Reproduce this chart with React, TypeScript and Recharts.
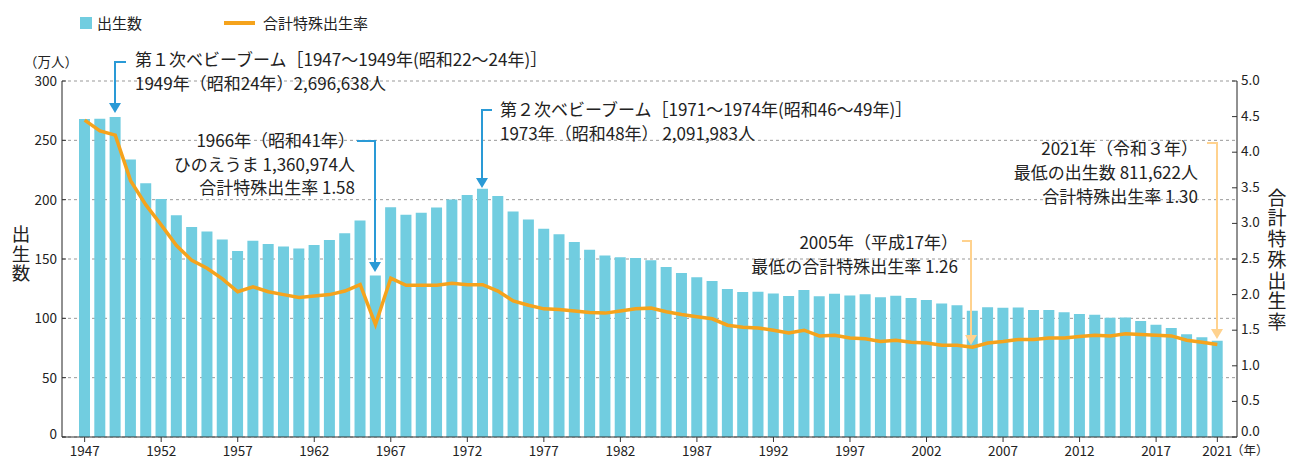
import { ComposedChart, Bar, Line, XAxis, YAxis, CartesianGrid } from "recharts";

const years = [
    1947, 1948, 1949, 1950, 1951, 1952, 1953, 1954, 1955, 1956,
    1957, 1958, 1959, 1960, 1961, 1962, 1963, 1964, 1965, 1966,
    1967, 1968, 1969, 1970, 1971, 1972, 1973, 1974, 1975, 1976,
    1977, 1978, 1979, 1980, 1981, 1982, 1983, 1984, 1985, 1986,
    1987, 1988, 1989, 1990, 1991, 1992, 1993, 1994, 1995, 1996,
    1997, 1998, 1999, 2000, 2001, 2002, 2003, 2004, 2005, 2006,
    2007, 2008, 2009, 2010, 2011, 2012, 2013, 2014, 2015, 2016,
    2017, 2018, 2019, 2020, 2021,
];

// 出生数（万人）
const births = [
    267.9, 268.2, 269.7, 233.8, 213.8, 200.5, 186.8, 177.0, 173.1, 166.5,
    156.7, 165.3, 162.6, 160.6, 158.9, 161.9, 166.0, 171.7, 182.4, 136.1,
    193.6, 187.2, 189.0, 193.4, 200.1, 203.9, 209.2, 203.0, 190.1, 183.3,
    175.5, 170.9, 164.3, 157.7, 152.9, 151.5, 150.9, 149.0, 143.2, 138.3,
    134.7, 131.4, 124.7, 122.2, 122.3, 120.9, 118.8, 123.8, 118.7, 120.7,
    119.2, 120.3, 117.8, 119.1, 117.1, 115.4, 112.4, 111.1, 106.3, 109.3,
    109.0, 109.1, 107.0, 107.1, 105.1, 103.7, 103.0, 100.4, 100.6, 97.7,
    94.6, 91.8, 86.5, 84.1, 81.2,
];

// 合計特殊出生率
const tfr = [
    4.45, 4.3, 4.24, 3.6, 3.26, 2.98, 2.69, 2.48, 2.37, 2.22,
    2.04, 2.11, 2.04, 2.0, 1.96, 1.98, 2.0, 2.05, 2.14, 1.58,
    2.23, 2.13, 2.13, 2.13, 2.16, 2.14, 2.14, 2.05, 1.91, 1.85,
    1.8, 1.79, 1.77, 1.75, 1.74, 1.77, 1.8, 1.81, 1.76, 1.72,
    1.69, 1.66, 1.57, 1.54, 1.53, 1.5, 1.46, 1.5, 1.42, 1.43,
    1.39, 1.38, 1.34, 1.36, 1.33, 1.32, 1.29, 1.29, 1.26, 1.32,
    1.34, 1.37, 1.37, 1.39, 1.39, 1.41, 1.43, 1.42, 1.45, 1.44,
    1.43, 1.42, 1.36, 1.33, 1.3,
];

const yearLabels = [1947, 1952, 1957, 1962, 1967, 1972, 1977, 1982, 1987, 1992, 1997, 2002, 2007, 2012, 2017, 2021];
const birthTicks = [0, 50, 100, 150, 200, 250, 300];
const tfrTicks = [0, 0.5, 1, 1.5, 2, 2.5, 3, 3.5, 4, 4.5, 5];

const FONT = "'Noto Sans CJK JP', 'Noto Sans', sans-serif";
const TEXT = "#222";
const BAR = "#71cde0";
const LINE = "#f5a31c";
const BLUE = "#2a9ad6";
const PALE = "#ffd28e";
const NOTE = 17;

const data = years.map((year, i) => ({ year, births: births[i], tfr: tfr[i] }));

function YearTick(props: any) {
    const { x, y, payload } = props;
    if (!yearLabels.includes(payload.value)) return null;
    return (
        <g>
            <line x1={x} x2={x} y1={y} y2={y + 5} stroke="#333" />
            <text x={x} y={y + 19} textAnchor="middle" fontSize={13.5} fill={TEXT} fontFamily={FONT}>
                {payload.value}
            </text>
        </g>
    );
}

function LeftTick(props: any) {
    const { x, y, payload } = props;
    return (
        <g>
            <line x1={x} x2={x + 4} y1={y} y2={y} stroke="#333" />
            <text x={x - 5} y={payload.value === 0 ? y + 2 : y + 5} textAnchor="end" fontSize={13.5} fill={TEXT} fontFamily={FONT}>
                {payload.value}
            </text>
        </g>
    );
}

function RightTick(props: any) {
    const { x, y, payload } = props;
    return (
        <g>
            <line x1={x} x2={x - 5} y1={y} y2={y} stroke="#333" />
            <text x={x + 4} y={payload.value === 0 ? y - 1 : y + 4} textAnchor="start" fontSize={13.5} fill={TEXT} fontFamily={FONT}>
                {payload.value.toFixed(1)}
            </text>
        </g>
    );
}

function Arrow({ pts, color }: { pts: number[][]; color: string }) {
    const [tx, ty] = pts[pts.length - 1];
    const body = pts.slice(0, -1).map((p, i) => (i === 0 ? "M" : "L") + p[0] + " " + p[1]).join(" ");
    return (
        <g>
            <path d={`${body} L${tx} ${ty - 9}`} fill="none" stroke={color} strokeWidth={2} />
            <polygon points={`${tx - 6},${ty - 10} ${tx + 6},${ty - 10} ${tx},${ty}`} fill={color} />
        </g>
    );
}

function VText({ chars, x, top, spacing, size }: { chars: string; x: number; top: number; spacing: number; size: number }) {
    return (
        <text
            x={x}
            y={top}
            fontSize={size}
            fill={TEXT}
            letterSpacing={spacing}
            style={{ writingMode: "vertical-rl" }}
        >
            {chars}
        </text>
    );
}

function Annotations() {
    return (
        <svg width={1290} height={459} style={{ position: "absolute", left: 0, top: 0, pointerEvents: "none" }} fontFamily={FONT}>
            {/* legend */}
            <rect x={80} y={17} width={12} height={12} fill={BAR} />
            <text x={97} y={29} fontSize={15} fill={TEXT}>出生数</text>
            <line x1={224} x2={255} y1={23} y2={23} stroke={LINE} strokeWidth={4} />
            <text x={263} y={29} fontSize={15} fill={TEXT}>合計特殊出生率</text>

            {/* axis titles */}
            <text x={24} y={67} fontSize={13.5} fill={TEXT}>（万人）</text>
            <VText chars="出生数" x={21} top={225} spacing={1} size={18.5} />
            <VText chars="合計特殊出生率" x={1277} top={188} spacing={1.7} size={19} />
            <text x={1231} y={455} fontSize={12.5} fill={TEXT}>（年）</text>

            {/* 第1次ベビーブーム */}
            <Arrow pts={[[126, 62], [115, 62], [115, 113]]} color={BLUE} />
            <text x={135} y={66} fontSize={NOTE} fill={TEXT}>第１次ベビーブーム［1947〜1949年(昭和22〜24年)］</text>
            <text x={135} y={90} fontSize={NOTE} fill={TEXT}>1949年（昭和24年）2,696,638人</text>

            {/* ひのえうま */}
            <Arrow pts={[[357, 141], [375, 141], [375, 272]]} color={BLUE} />
            <text x={355} y={147} textAnchor="end" fontSize={NOTE} fill={TEXT}>1966年（昭和41年）</text>
            <text x={355} y={171} textAnchor="end" fontSize={NOTE} fill={TEXT}>ひのえうま 1,360,974人</text>
            <text x={355} y={194} textAnchor="end" fontSize={NOTE} fill={TEXT}>合計特殊出生率 1.58</text>

            {/* 第2次ベビーブーム */}
            <Arrow pts={[[492, 110], [482, 110], [482, 188]]} color={BLUE} />
            <text x={500} y={116} fontSize={NOTE} fill={TEXT}>第２次ベビーブーム［1971〜1974年(昭和46〜49年)］</text>
            <text x={500} y={140} fontSize={NOTE} fill={TEXT}>1973年（昭和48年） 2,091,983人</text>

            {/* 2005年 */}
            <Arrow pts={[[962, 241], [971, 241], [971, 345]]} color={PALE} />
            <text x={958} y={249} textAnchor="end" fontSize={NOTE} fill={TEXT}>2005年（平成17年）</text>
            <text x={958} y={273} textAnchor="end" fontSize={NOTE} fill={TEXT}>最低の合計特殊出生率 1.26</text>

            {/* 2021年 */}
            <Arrow pts={[[1207, 143], [1217, 143], [1217, 339]]} color={PALE} />
            <text x={1198} y={155} textAnchor="end" fontSize={NOTE} fill={TEXT}>2021年（令和３年）</text>
            <text x={1198} y={179} textAnchor="end" fontSize={NOTE} fill={TEXT}>最低の出生数 811,622人</text>
            <text x={1198} y={203} textAnchor="end" fontSize={NOTE} fill={TEXT}>合計特殊出生率 1.30</text>
        </svg>
    );
}

export default function App() {
    return (
        <div style={{ position: "absolute", left: 0, top: 0, width: 1290, height: 459, background: "#fff", fontFamily: FONT }}>
            <ComposedChart width={1290} height={459} data={data} margin={{ top: 81, right: 0, bottom: 0, left: 0 }}>
                <CartesianGrid yAxisId="left" vertical={false} stroke="#999" strokeDasharray="3 3" />
                <XAxis
                    dataKey="year"
                    height={22}
                    interval={0}
                    padding={{ left: 15, right: 12 }}
                    tickSize={0}
                    tickMargin={0}
                    tickLine={false}
                    tick={<YearTick />}
                    axisLine={{ stroke: "#333" }}
                />
                <YAxis
                    yAxisId="left"
                    width={62}
                    domain={[0, 300]}
                    ticks={birthTicks}
                    tickSize={0}
                    tickMargin={0}
                    tickLine={false}
                    tick={<LeftTick />}
                    axisLine={{ stroke: "#222" }}
                />
                <YAxis
                    yAxisId="right"
                    orientation="right"
                    width={53}
                    domain={[0, 5]}
                    ticks={tfrTicks}
                    tickSize={0}
                    tickMargin={0}
                    tickLine={false}
                    tick={<RightTick />}
                    axisLine={{ stroke: "#222" }}
                />
                <Bar yAxisId="left" dataKey="births" fill={BAR} barSize={11} isAnimationActive={false} />
                <Line
                    yAxisId="right"
                    type="linear"
                    dataKey="tfr"
                    stroke={LINE}
                    strokeWidth={3.5}
                    dot={false}
                    activeDot={false}
                    isAnimationActive={false}
                />
            </ComposedChart>
            <Annotations />
        </div>
    );
}
